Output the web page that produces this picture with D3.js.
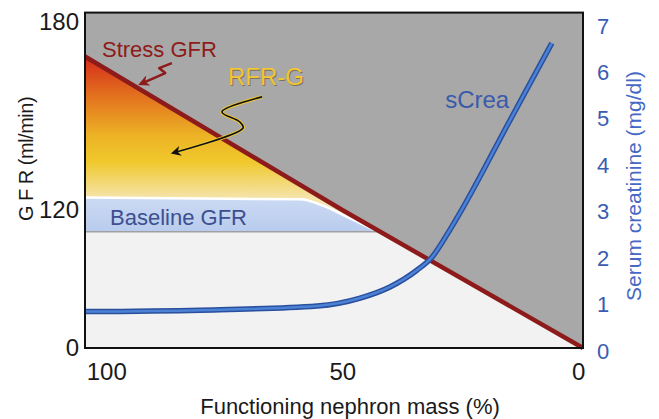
<!DOCTYPE html>
<html>
<head>
<meta charset="utf-8">
<script src="https://cdn.jsdelivr.net/npm/d3@7"></script>
<style>
  body { margin: 0; background: #fff; }
  text { font-family: "Liberation Sans", Arial, sans-serif; }
</style>
</head>
<body>
<div id="container"></div>
<script>
/* DATA */
const massTicks = [100, 50, 0]
const gfrTicks = [0, 120, 180]
const creaTicks = [0, 1, 2, 3, 4, 5, 6, 7]

// stress GFR line (nephron mass %, GFR)
const stressMass = [104.5, 50, -1]
const stressGfr = [169, 120, 0]

// baseline GFR band
const baseMass = [104.5, 58.9, 54.1, 49, 42.6]
const baseTopGfr = [124, 123.4, 121.4, 114, 101.5]
const baseBottomGfr = 101

// serum creatinine curve (mg/dl)
const creaMass = [104.5, 80.1, 55.3, 46.2, 39.9, 34.2, 31, 27.2, 24.7, 15.2, 5.6]
const creaValues = [0.85, 0.88, 0.97, 1.14, 1.38, 1.74, 2.02, 2.61, 3.04, 4.83, 6.63]

// annotation arrows
const stressArrowMass = [86.1, 88.8, 87.5, 92.8]
const stressArrowGfr = [166.9, 165.3, 163.7, 160.2]
const rfrArrowMass = [67.0, 75.5, 71.7, 71.0, 85.9]
const rfrArrowGfr = [156.1, 151.3, 148.1, 146.2, 138.2]

/* CONSTANTS */
const width = 659,
  height = 419

const zip = (a, b) => a.map((v, i) => ({ m: v, v: b[i] }))
const stress = zip(stressMass, stressGfr)
const baseTop = zip(baseMass, baseTopGfr)
const crea = zip(creaMass, creaValues)

// SCALES
const xScale = d3.scaleLinear().domain([104.5, -1]).range([85, 583])
const yScale = d3.scaleLinear().domain([0, 120, 180]).range([348, 210, 22])
const cScale = d3.scaleLinear().domain([0, 7]).range([351, 26])
const yTop = yScale(183)

const svg = d3.select("#container")
  .append("svg")
  .attr("width", width)
  .attr("height", height)

const defs = svg.append("defs")

const grad = defs.append("linearGradient")
  .attr("id", "rfr")
  .attr("gradientUnits", "userSpaceOnUse")
  .attr("x1", 0).attr("x2", 0)
  .attr("y1", yScale(169)).attr("y2", yScale(baseBottomGfr))
;[[0, "#d42a1a"], [0.22, "#e3701e"], [0.45, "#ecb225"], [0.6, "#f0c82c"], [0.8, "#f5e3a6"], [1, "#f2eee2"]]
  .forEach(s => grad.append("stop").attr("offset", s[0]).attr("stop-color", s[1]))

const bandGrad = defs.append("linearGradient")
  .attr("id", "band")
  .attr("x1", 0).attr("x2", 0).attr("y1", 0).attr("y2", 1)
bandGrad.append("stop").attr("offset", 0).attr("stop-color", "#cbdaf3")
bandGrad.append("stop").attr("offset", 1).attr("stop-color", "#b9ccee")

const marker = (id, color, size) => defs.append("marker")
  .attr("id", id)
  .attr("viewBox", "0 0 10 10")
  .attr("refX", 8).attr("refY", 5)
  .attr("markerWidth", size).attr("markerHeight", size)
  .attr("markerUnits", "userSpaceOnUse")
  .attr("orient", "auto")
  .append("path")
  .attr("d", "M0,0 L10,5 L0,10 L3,5 Z")
  .attr("fill", color)
marker("arrRed", "#8e1b1b", 11)
marker("arrBlack", "#111", 10)

// BACKGROUND
svg.append("rect")
  .attr("x", xScale(104.5)).attr("y", yTop)
  .attr("width", xScale(-1) - xScale(104.5))
  .attr("height", yScale(0) - yTop)
  .attr("fill", "#f2f2f2")

const upperArea = d3.area()
  .x(d => xScale(d.m))
  .y0(yTop)
  .y1(d => yScale(d.v))

svg.append("path")
  .datum(stress)
  .attr("fill", "#a8a8a8")
  .attr("d", upperArea)

// RFR-G region under the stress line
const tri = [
  { m: 104.5, v: 169 }, { m: 50, v: 120 }, { m: 42.6, v: 102.6 }, { m: 104.5, v: 102.6 }
]
svg.append("path")
  .datum(tri)
  .attr("fill", "url(#rfr)")
  .attr("d", d3.line().x(d => xScale(d.m)).y(d => yScale(d.v)).curve(d3.curveLinearClosed))

// BASELINE BAND
const bandArea = d3.area()
  .x(d => xScale(d.m))
  .y0(yScale(baseBottomGfr))
  .y1(d => yScale(d.v))
  .curve(d3.curveMonotoneX)

svg.append("path")
  .datum(baseTop)
  .attr("fill", "url(#band)")
  .attr("d", bandArea)

svg.append("path")
  .datum(baseTop)
  .attr("fill", "none")
  .attr("stroke", "#ffffff")
  .attr("stroke-width", 2.5)
  .attr("d", d3.line().x(d => xScale(d.m)).y(d => yScale(d.v)).curve(d3.curveMonotoneX))

svg.append("line")
  .attr("x1", xScale(104.5)).attr("x2", xScale(42.6))
  .attr("y1", yScale(baseBottomGfr)).attr("y2", yScale(baseBottomGfr))
  .attr("stroke", "#a0a0a0")
  .attr("stroke-width", 1.5)

// STRESS LINE
svg.append("path")
  .datum(stress)
  .attr("fill", "none")
  .attr("stroke", "#8e1b1b")
  .attr("stroke-width", 4.5)
  .attr("d", d3.line().x(d => xScale(d.m)).y(d => yScale(d.v)))

// sCrea CURVE
const creaLine = d3.line()
  .x(d => xScale(d.m))
  .y(d => cScale(d.v))
  .curve(d3.curveMonotoneX)

svg.append("path")
  .datum(crea)
  .attr("fill", "none")
  .attr("stroke", "#2a4f9c")
  .attr("stroke-width", 5.5)
  .attr("d", creaLine)
svg.append("path")
  .datum(crea)
  .attr("fill", "none")
  .attr("stroke", "#4c82d6")
  .attr("stroke-width", 2.5)
  .attr("d", creaLine)

// BORDER
svg.append("rect")
  .attr("x", xScale(104.5)).attr("y", yTop)
  .attr("width", xScale(-1) - xScale(104.5))
  .attr("height", yScale(0) - yTop)
  .attr("fill", "none")
  .attr("stroke", "#111")
  .attr("stroke-width", 2)

// ANNOTATIONS
const annLine = d3.line().x(d => xScale(d.m)).y(d => yScale(d.v))

svg.append("path")
  .datum(zip(stressArrowMass, stressArrowGfr))
  .attr("fill", "none")
  .attr("stroke", "#8e1b1b")
  .attr("stroke-width", 2.5)
  .attr("stroke-linejoin", "round")
  .attr("marker-end", "url(#arrRed)")
  .attr("d", annLine)

const rfrPts = zip(rfrArrowMass, rfrArrowGfr)
const rfrLine = d3.line().x(d => xScale(d.m)).y(d => yScale(d.v)).curve(d3.curveCatmullRom)
svg.append("path")
  .datum(rfrPts)
  .attr("fill", "none")
  .attr("stroke", "#f0c830")
  .attr("stroke-width", 3.5)
  .attr("d", rfrLine)
svg.append("path")
  .datum(rfrPts)
  .attr("fill", "none")
  .attr("stroke", "#111")
  .attr("stroke-width", 1.6)
  .attr("marker-end", "url(#arrBlack)")
  .attr("d", rfrLine)

svg.append("text")
  .attr("x", xScale(100.9)).attr("y", yScale(168.8))
  .attr("fill", "#8e1b1b")
  .style("font-size", "22px")
  .text("Stress GFR")

svg.append("text")
  .attr("x", xScale(74.2) + 1).attr("y", yScale(159.9) + 1)
  .attr("fill", "#5a5230")
  .attr("opacity", 0.6)
  .style("font-size", "24px")
  .text("RFR-G")
svg.append("text")
  .attr("x", xScale(74.2)).attr("y", yScale(159.9))
  .attr("fill", "#f2c531")
  .style("font-size", "24px")
  .text("RFR-G")

svg.append("text")
  .attr("x", xScale(99.2)).attr("y", yScale(107))
  .attr("fill", "#3d4f8f")
  .style("font-size", "22px")
  .text("Baseline GFR")

svg.append("text")
  .attr("x", xScale(28.2)).attr("y", cScale(5.23))
  .attr("fill", "#3a5aab")
  .style("font-size", "24px")
  .text("sCrea")

// AXES
const yAxis = d3.axisLeft(yScale).tickValues(gfrTicks).tickSize(0).tickPadding(6)
const gy = svg.append("g")
  .attr("transform", `translate(${xScale(104.5)}, 0)`)
  .call(yAxis)
gy.select(".domain").remove()
gy.selectAll("text").style("font-size", "24px").attr("fill", "#1a1a1a")

const xAxis = d3.axisBottom(xScale).tickValues(massTicks).tickSize(0).tickPadding(15)
const gx = svg.append("g")
  .attr("transform", `translate(0, ${yScale(0)})`)
  .call(xAxis)
gx.select(".domain").remove()
gx.selectAll("text").style("font-size", "24px").attr("fill", "#1a1a1a")

const cAxis = d3.axisRight(cScale).tickValues(creaTicks).tickFormat(d3.format("d")).tickSize(0).tickPadding(14)
const gc = svg.append("g")
  .attr("transform", `translate(${xScale(-1)}, 0)`)
  .call(cAxis)
gc.select(".domain").remove()
gc.selectAll("text").style("font-size", "22px").attr("fill", "#3a5cb2")

// AXIS TITLES
svg.append("text")
  .attr("transform", `translate(33, 159) rotate(-90)`)
  .attr("text-anchor", "middle")
  .attr("fill", "#1a1a1a")
  .style("font-size", "20px")
  .style("letter-spacing", "-0.5px")
  .text("G F R (ml/min)")

svg.append("text")
  .attr("x", 350).attr("y", 414)
  .attr("text-anchor", "middle")
  .attr("fill", "#1a1a1a")
  .style("font-size", "22px")
  .text("Functioning nephron mass (%)")

svg.append("text")
  .attr("transform", `translate(641, 186) rotate(-90)`)
  .attr("text-anchor", "middle")
  .attr("fill", "#4468c4")
  .style("font-size", "21px")
  .text("Serum creatinine (mg/dl)")
</script>
</body>
</html>
